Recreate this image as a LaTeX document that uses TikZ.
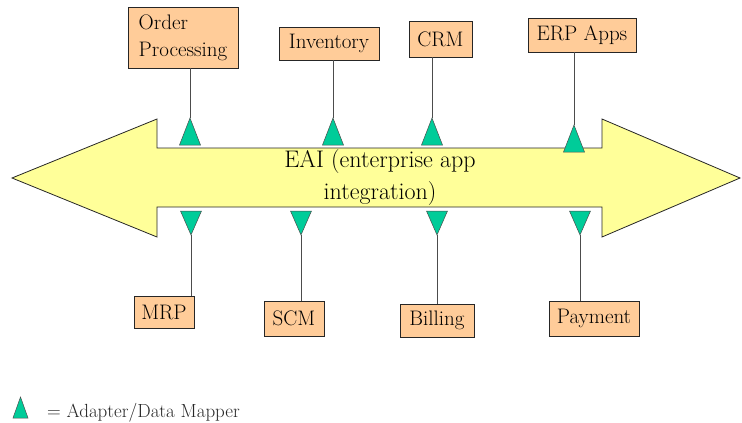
\documentclass[tikz,border=0pt]{standalone}
\definecolor{boxfill}{HTML}{FFCC99}
\definecolor{arrowfill}{HTML}{FFFF99}
\definecolor{adaptergreen}{HTML}{00CC99}
\begin{document}
\begin{tikzpicture}[x=1pt,y=-1pt,
  box/.style={draw=black!85, fill=boxfill, line width=0.9pt, inner sep=2pt,
    font=\fontsize{21}{27}\selectfont},
  link/.style={draw=black!70, line width=0.8pt},
  adapter/.style={fill=adaptergreen, draw=black!70, line width=0.5pt},
  adapterup/.pic={\filldraw[adapter] (0,0) -- (-10.5,27) -- (10.5,27) -- cycle;},
  adapterdown/.pic={\filldraw[adapter] (0,0) -- (-10.5,-24) -- (10.5,-24) -- cycle;},
]
\useasboundingbox (0,0) rectangle (742,423);

% the integration bus: a double-headed arrow
\filldraw[fill=arrowfill, draw=black!85, line width=0.8pt]
  (12,178) -- (157,119) -- (157,148) -- (602,148) -- (602,119) -- (740,178)
  -- (602,237) -- (602,207) -- (157,207) -- (157,237) -- cycle;
\node[font=\fontsize{24}{32}\selectfont, align=center] (eai) at (380,178)
  {EAI (enterprise app\\integration)};

% applications above the bus
\node[box, minimum width=110pt, minimum height=61pt, align=left] (op) at (183,37.5) {Order\\Processing};
\node[box, minimum width=100pt, minimum height=33pt] (inv) at (329,43.5) {Inventory};
\node[box, minimum width=63pt, minimum height=36pt] (crm) at (440.5,39) {CRM};
\node[box, minimum width=108pt, minimum height=34pt] (erp) at (582,35) {ERP Apps};

% applications below the bus
\node[box, minimum width=60pt, minimum height=32pt] (mrp) at (164,312) {MRP};
\node[box, minimum width=60pt, minimum height=35pt] (scm) at (294,318.5) {SCM};
\node[box, minimum width=74pt, minimum height=33pt] (bil) at (437,320.5) {Billing};
\node[box, minimum width=90pt, minimum height=35pt] (pay) at (594,318.5) {Payment};

% adapter tips
\coordinate (aop) at (190,118);
\coordinate (ainv) at (333,118);
\coordinate (acrm) at (432,118);
\coordinate (aerp) at (574,125);
\coordinate (amrp) at (191,235);
\coordinate (ascm) at (301,235);
\coordinate (abil) at (437,235);
\coordinate (apay) at (580,235);

% connectors from each application to its adapter
\draw[link] (op.south -| aop) -- (aop);
\draw[link] (inv.south -| ainv) -- (ainv);
\draw[link] (crm.south -| acrm) -- (acrm);
\draw[link] (erp.south -| aerp) -- (aerp);
\draw[link] (amrp) -- (mrp.north -| amrp);
\draw[link] (ascm) -- (scm.north -| ascm);
\draw[link] (abil) -- (bil.north -| abil);
\draw[link] (apay) -- (pay.north -| apay);

% adapters
\pic at (aop) {adapterup};
\pic at (ainv) {adapterup};
\pic at (acrm) {adapterup};
\pic at (aerp) {adapterup};
\pic at (amrp) {adapterdown};
\pic at (ascm) {adapterdown};
\pic at (abil) {adapterdown};
\pic at (apay) {adapterdown};

% legend
\coordinate (lgtip) at (20.5,397);
\filldraw[adapter] (lgtip) -- ++(-7.5,21) -- ++(15,0) -- cycle;
\node[anchor=base west, inner sep=0pt, font=\fontsize{19}{23}\selectfont, text=black!85]
  (legend) at (47,417) {= Adapter/Data Mapper};
\end{tikzpicture}
\end{document}
